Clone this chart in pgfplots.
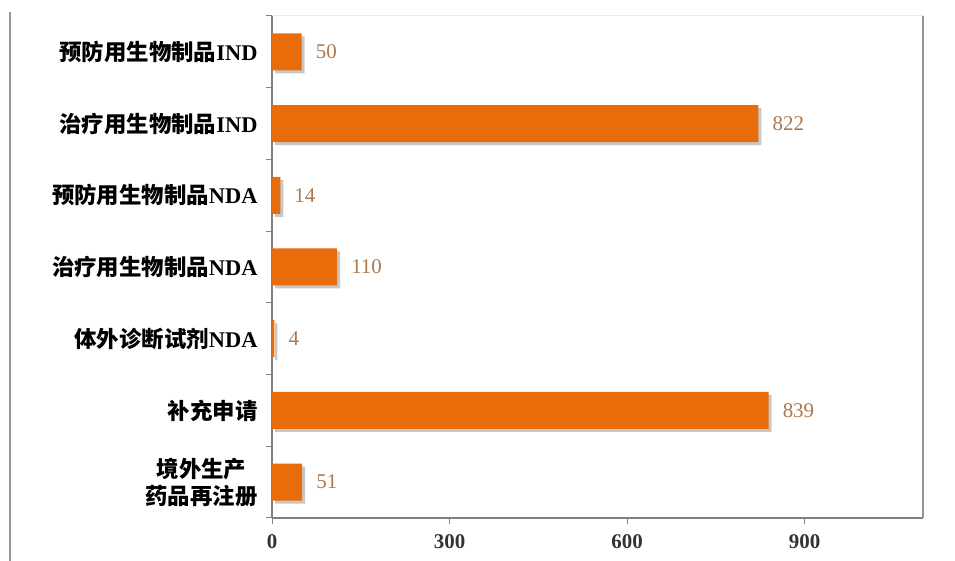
\documentclass[border=0pt]{standalone}
\usepackage{fontspec}
\setmainfont{Liberation Serif}
\newfontfamily\cjk{Noto Sans CJK SC}
\usepackage{pgfplots}
\pgfplotsset{compat=1.18}
\definecolor{barc}{RGB}{232,108,10}
\definecolor{labc}{RGB}{172,120,78}
\definecolor{axc}{RGB}{128,128,128}
\newcommand{\C}[1]{{\cjk\bfseries #1}}
\begin{document}
\begin{tikzpicture}[x=1bp,y=1bp]
\path[use as bounding box] (0,0) rectangle (955,561);
\draw[line width=2.5bp, color=axc!80] (10,0) -- (10,549);
\begin{axis}[
  at={(272bp,43bp)}, anchor=south west,
  width=651bp, height=502bp, scale only axis,
  xbar, xmin=0, xmax=1100, ymin=-0.5, ymax=6.5,
  bar width=37bp,
  axis x line*=bottom, axis y line*=left,
  axis line style={color=axc, line width=1.2bp, -},
  xtick={0,300,600,900},
  ytick={0,...,6},
  minor ytick={-0.5,0.5,...,6.5},
  yticklabels={{\C{境外生产}\\\C{药品再注册}},\C{补充申请},\C{体外诊断试剂}\textbf{NDA},\C{治疗用生物制品}\textbf{NDA},\C{预防用生物制品}\textbf{NDA},\C{治疗用生物制品}\textbf{IND},\C{预防用生物制品}\textbf{IND}},
  tick align=outside,
  major tick length=6bp, minor tick length=6bp,
  every major y tick/.style={draw=none},
  every minor y tick/.style={draw=axc, line width=1bp},
  every major x tick/.style={draw=axc, line width=1bp},
  yticklabel style={font=\bfseries\fontsize{22.5}{27}\selectfont, align=center, xshift=-5bp, text=black},
  xticklabel style={font=\bfseries\fontsize{21}{24}\selectfont, text=black!80, yshift=-7bp},
  /pgf/number format/assume math mode=true,
  nodes near coords,
  nodes near coords style={anchor=west, inner sep=0pt, xshift=14bp, font=\fontsize{21}{24}\selectfont, text=labc},
  clip=false,
]
\addplot[fill=barc, draw=none,
  preaction={fill=black, opacity=0.22, transform canvas={shift={(3bp,-3bp)}}}]
  coordinates {(51,0) (839,1) (4,2) (110,3) (14,4) (822,5) (50,6)};
\draw[color=axc!85, line width=2.5bp] (rel axis cs:1,0) -- (rel axis cs:1,1);
\draw[color=black!8, line width=1bp] (rel axis cs:0,1) -- (rel axis cs:1,1);
\end{axis}
\end{tikzpicture}
\end{document}
